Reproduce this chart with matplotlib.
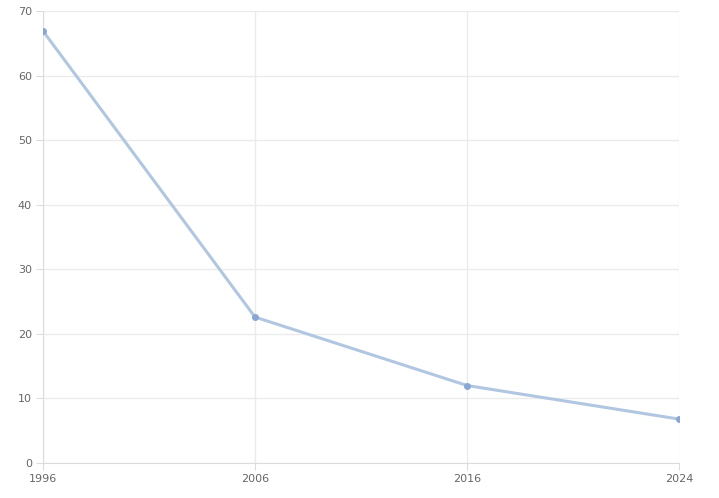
import matplotlib
matplotlib.use("Agg")
import matplotlib.pyplot as plt

years = ["1996", "2006", "2016", "2024"]
values = [66.9, 22.6, 12.0, 6.8]
y_ticks = [0, 10, 20, 30, 40, 50, 60, 70]

fig = plt.figure(figsize=(7.19, 4.98), dpi=100)
ax = fig.add_axes([43 / 719, 35 / 498, 636 / 719, 452 / 498])

x = list(range(len(years)))
ax.plot(x, values, color="#b1c7e1", lw=2.2, zorder=3)
ax.plot(x, values, ls="none", marker="o", ms=4, color="#8aa7d3", zorder=4)

ax.set_xlim(0, len(years) - 1)
ax.set_ylim(0, 70)
ax.set_xticks(x)
ax.set_xticklabels(years)
ax.set_yticks(y_ticks)

ax.grid(True, color="#ebebeb", lw=1)
ax.set_axisbelow(True)
for side in ["top", "right"]:
    ax.spines[side].set_visible(False)
for side in ["left", "bottom"]:
    ax.spines[side].set_color("#dcdcdc")
ax.tick_params(colors="#dcdcdc", labelcolor="#666666", labelsize=8, length=5, pad=3)

fig.savefig("out.png", dpi=100)
